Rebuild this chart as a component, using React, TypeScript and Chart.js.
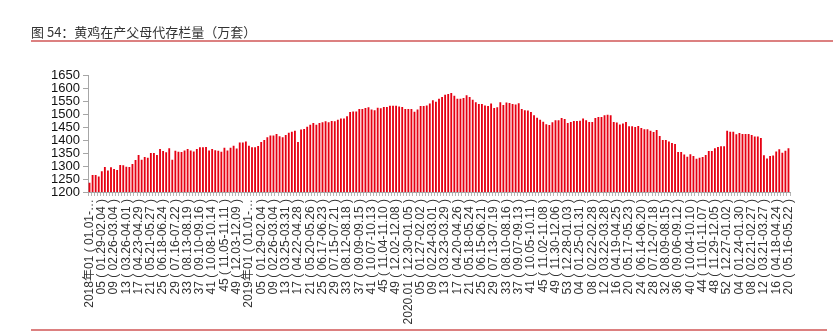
import React, { useEffect, useRef } from "react";
import { Chart, registerables } from "chart.js";

Chart.register(...registerables);

const chartTitle = "图 54：黄鸡在产父母代存栏量（万套）";

// Weekly stock (万套), one array per year
const stock2018 = [1236, 1265, 1265, 1260, 1280, 1296, 1283, 1295, 1288, 1285, 1304, 1303, 1297, 1296, 1308, 1323, 1342, 1324, 1335, 1332, 1350, 1350, 1342, 1365, 1358, 1353, 1368, 1324, 1359, 1355, 1354, 1360, 1365, 1360, 1356, 1365, 1372, 1372, 1373, 1360, 1365, 1361, 1359, 1355, 1370, 1360, 1370, 1378, 1367, 1390, 1390, 1394];
const stock2019 = [1378, 1372, 1372, 1377, 1392, 1400, 1411, 1417, 1417, 1423, 1414, 1411, 1419, 1428, 1432, 1436, 1392, 1440, 1442, 1451, 1459, 1465, 1459, 1465, 1468, 1472, 1468, 1473, 1472, 1478, 1483, 1483, 1491, 1508, 1510, 1510, 1519, 1519, 1523, 1526, 1517, 1514, 1524, 1522, 1527, 1527, 1532, 1532, 1532, 1529, 1527, 1519];
const stock2020 = [1519, 1519, 1509, 1517, 1531, 1531, 1533, 1540, 1553, 1547, 1559, 1565, 1574, 1577, 1581, 1570, 1559, 1559, 1562, 1572, 1565, 1555, 1545, 1538, 1538, 1533, 1531, 1540, 1523, 1526, 1545, 1535, 1544, 1542, 1538, 1537, 1541, 1519, 1514, 1513, 1508, 1495, 1486, 1478, 1470, 1461, 1458, 1468, 1476, 1476, 1485, 1481, 1465];
const stock2021 = [1469, 1473, 1473, 1474, 1483, 1476, 1469, 1469, 1485, 1488, 1488, 1495, 1497, 1495, 1469, 1467, 1460, 1463, 1469, 1453, 1453, 1450, 1454, 1446, 1441, 1441, 1436, 1431, 1438, 1415, 1400, 1400, 1394, 1388, 1385, 1354, 1354, 1344, 1336, 1345, 1338, 1328, 1332, 1335, 1342, 1358, 1358, 1368, 1373, 1376, 1376, 1436];
const stock2022 = [1432, 1432, 1422, 1427, 1423, 1423, 1423, 1419, 1413, 1413, 1408, 1341, 1329, 1338, 1340, 1356, 1364, 1351, 1359, 1368];

const years = [2018, 2019, 2020, 2021, 2022];
const yearValues = [stock2018, stock2019, stock2020, stock2021, stock2022];

// categories: one per week
const categories = years.flatMap((y, k) =>
  yearValues[k].map((_, i) => `${y}-W${String(i + 1).padStart(2, "0")}`)
);
const values = yearValues.flat();

// shown tick labels (every 4th week)
const tickLabels = [
  "2018年01 ( 01.01-…", "05 ( 01.29-02.04 )", "09 ( 02.26-03.04 )", "13 ( 03.26-04.01 )", "17 ( 04.23-04.29 )", "21 ( 05.21-05.27 )", "25 ( 06.18-06.24 )", "29 ( 07.16-07.22 )", "33 ( 08.13-08.19 )", "37 ( 09.10-09.16 )", "41 ( 10.08-10.14 )", "45 ( 11.05-11.11 )", "49 ( 12.03-12.09 )",
  "2019年01 ( 01.01-…", "05 ( 01.29-02.04 )", "09 ( 02.26-03.04 )", "13 ( 03.25-03.31 )", "17 ( 04.22-04.28 )", "21 ( 05.20-05.26 )", "25 ( 06.17-06.23 )", "29 ( 07.15-07.21 )", "33 ( 08.12-08.18 )", "37 ( 09.09-09.15 )", "41 ( 10.07-10.13 )", "45 ( 11.04-11.10 )", "49 ( 12.02-12.08 )",
  "2020.01 ( 12.30-01.05 )", "05 ( 01.27-02.02 )", "09 ( 02.24-03.01 )", "13 ( 03.23-03.29 )", "17 ( 04.20-04.26 )", "21 ( 05.18-05.24 )", "25 ( 06.15-06.21 )", "29 ( 07.13-07.19 )", "33 ( 08.10-08.16 )", "37 ( 09.07-09.13 )", "41 ( 10.05-10.11 )", "45 ( 11.02-11.08 )", "49 ( 11.30-12.06 )", "53 ( 12.28-01.03 )",
  "04 ( 01.25-01.31 )", "08 ( 02.22-02.28 )", "12 ( 03.22-03.28 )", "16 ( 04.19-04.25 )", "20 ( 05.17-05.23 )", "24 ( 06.14-06.20 )", "28 ( 07.12-07.18 )", "32 ( 08.09-08.15 )", "36 ( 09.06-09.12 )", "40 ( 10.04-10.10 )", "44 ( 11.01-11.07 )", "48 ( 11.29-12.05 )", "52 ( 12.27-01.02 )",
  "04 ( 01.24-01.30 )", "08 ( 02.21-02.27 )", "12 ( 03.21-03.27 )", "16 ( 04.18-04.24 )", "20 ( 05.16-05.22 )",
];
const labelEvery = 4;

const yMin = 1200;
const yMax = 1650;
const yStep = 50;

const W = 833;
const H = 336;

export default function App() {
  const ref = useRef<HTMLCanvasElement | null>(null);

  useEffect(() => {
    if (!ref.current) return;
    const fontFamily = '"Liberation Sans", Arial, "Noto Sans CJK SC", sans-serif';
    const chart = new Chart(ref.current, {
      type: "bar",
      data: {
        labels: categories,
        datasets: [
          {
            data: values,
            backgroundColor: "#e60012",
            borderWidth: 0,
            barPercentage: 0.6,
            categoryPercentage: 1,
          },
        ],
      },
      options: {
        animation: false,
        responsive: false,
        maintainAspectRatio: false,
        layout: { padding: { top: 75, right: 43, bottom: 0, left: 0 } },
        plugins: { legend: { display: false }, tooltip: { enabled: false } },
        scales: {
          x: {
            grid: {
              display: true,
              drawOnChartArea: false,
              drawTicks: true,
              tickLength: 4,
              color: "#b5b5b5",
            },
            border: { display: true, color: "#a6a6a6" },
            ticks: {
              autoSkip: false,
              maxRotation: 90,
              minRotation: 90,
              padding: 3,
              color: "#333",
              font: { family: fontFamily, size: 12 },
              callback: (_v: any, i: number) =>
                i % labelEvery === 0 ? tickLabels[i / labelEvery] : "",
            },
            afterFit: (s: any) => {
              s.height = H - 192;
            },
          },
          y: {
            min: yMin,
            max: yMax,
            ticks: {
              stepSize: yStep,
              autoSkip: false,
              color: "#111",
              padding: 3,
              font: { family: fontFamily, size: 13 },
              callback: (v: any) => String(v),
            },
            grid: {
              display: true,
              drawOnChartArea: false,
              drawTicks: true,
              tickLength: 5,
              color: "#a6a6a6",
            },
            border: { display: true, color: "#a6a6a6" },
            afterFit: (s: any) => {
              s.width = 88;
            },
          },
        },
      },
    } as any);
    return () => chart.destroy();
  }, []);

  return (
    <div style={{ position: "absolute", left: 0, top: 0, width: W, height: H, background: "#fff" }}>
      <canvas ref={ref} width={W} height={H} style={{ position: "absolute", left: 0, top: 0, width: W, height: H }} />
      <div
        style={{
          position: "absolute",
          left: 31,
          top: 24,
          fontFamily: '"Noto Sans CJK SC", sans-serif',
          fontSize: 13,
          lineHeight: "16px",
          color: "#333",
          whiteSpace: "nowrap",
        }}
      >
        {chartTitle}
      </div>
      <div style={{ position: "absolute", left: 31, top: 40, width: 802, height: 2, background: "#dc8080" }} />
      <div style={{ position: "absolute", left: 31, top: 329, width: 796, height: 2, background: "#dc8080" }} />
    </div>
  );
}
